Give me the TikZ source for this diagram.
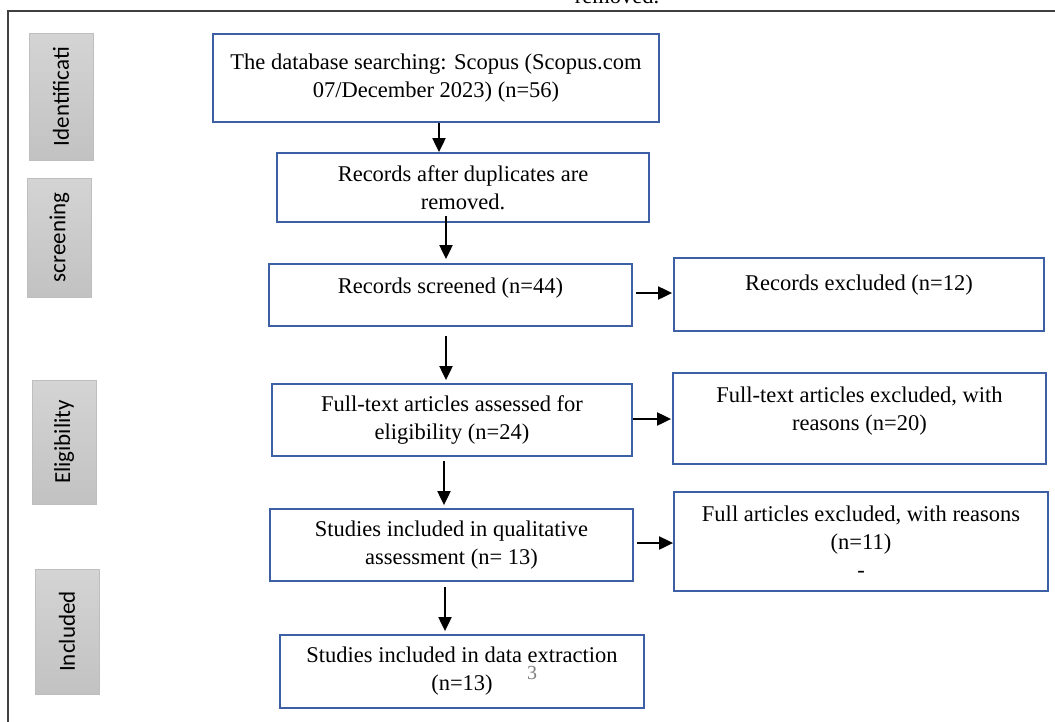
\documentclass[tikz,border=0pt]{standalone}
\usepackage{fontspec}
\setmainfont{Liberation Serif}
\newfontfamily\sidefont{Carlito}
\usetikzlibrary{arrows.meta}
\definecolor{boxblue}{RGB}{60,95,165}
\definecolor{phasetop}{RGB}{212,212,212}
\definecolor{phasebot}{RGB}{194,194,194}
\definecolor{phaseline}{RGB}{190,190,190}
\definecolor{framegray}{RGB}{64,64,64}

\begin{document}
\begin{tikzpicture}[x=1pt,y=-1pt,
        stage/.style={draw=boxblue,line width=1.8pt,inner sep=0pt,align=center,
            font=\fontsize{22.5}{28}\selectfont},
        phase/.style={draw=phaseline,line width=1pt,top color=phasetop,bottom color=phasebot,
            inner sep=0pt,minimum width=64pt,font=\sidefont\fontsize{23}{27}\selectfont},
        arr/.style={-{Triangle[length=14pt,width=13pt]},line width=2pt}]
            \useasboundingbox (0,0) rectangle (1055,721);
            \draw[framegray,line width=1.5pt] (8,730) |- (1060,11);
            \node[anchor=base,font=\fontsize{22.5}{28}\selectfont] (cut) at (617,3) {removed.};

            \node[phase,minimum height=127pt] (ident) at (61,96.5) {\rotatebox{90}{Identificati}};
            \node[phase,minimum height=119pt] (screen) at (59.5,237.5) {\rotatebox{90}{screening}};
            \node[phase,minimum height=124pt] (elig) at (64,442) {\rotatebox{90}{Eligibility}};
            \node[phase,minimum height=125pt] (incl) at (67,631.5) {\rotatebox{90}{Included}};

            \node[stage,minimum width=446pt,minimum height=88pt] (search) at (436,78)
                {The database searching: Scopus (Scopus.com\\07/December 2023) (n=56)};
            \node[stage,minimum width=372pt,minimum height=69pt] (dedup) at (463,187.5)
                {Records after duplicates are\\removed.};
            \node[stage,minimum width=363pt,minimum height=62pt,text depth=19pt] (screened) at (450.5,295)
                {Records screened (n=44)};
            \node[stage,minimum width=370pt,minimum height=73pt,text depth=24pt] (excl1) at (859,294.5)
                {Records excluded (n=12)};
            \node[stage,minimum width=360pt,minimum height=72pt] (assessed) at (452,420)
                {Full-text articles assessed for\\eligibility (n=24)};
            \node[stage,minimum width=373pt,minimum height=91pt,text depth=20pt] (excl2) at (859.5,418.5)
                {Full-text articles excluded, with\\reasons (n=20)};
            \node[stage,minimum width=363pt,minimum height=72pt] (qual) at (451.5,545)
                {Studies included in qualitative\\assessment (n= 13)};
            \node[stage,minimum width=374pt,minimum height=99pt] (excl3) at (861,541.5)
                {Full articles excluded, with reasons\\(n=11)\\-};
            \node[stage,minimum width=364pt,minimum height=73pt] (extract) at (462,671.5)
                {Studies included in data extraction\\(n=13)};
            \node[anchor=north,text=gray,font=\fontsize{20}{24}\selectfont,inner sep=0pt] (stray) at (532,666) {3};

            \draw[arr] ([xshift=3pt]search.south) -- ([xshift=3pt]search.south |- dedup.north);
            \draw[arr,shorten >=4pt] ([xshift=-17pt,yshift=7pt]dedup.south) -- ([xshift=-17pt]dedup.south |- screened.north);
            \draw[arr,shorten <=9pt,shorten >=3pt] ([xshift=-4.5pt]screened.south) -- ([xshift=-4.5pt]screened.south |- assessed.north);
            \draw[arr,shorten <=4pt,shorten >=3pt] ([xshift=-8pt]assessed.south) -- ([xshift=-8pt]assessed.south |- qual.north);
            \draw[arr,shorten <=5pt,shorten >=3pt] ([xshift=-6.5pt]qual.south) -- ([xshift=-6.5pt]qual.south |- extract.north);

            \draw[arr,shorten <=3pt,shorten >=1pt] ([yshift=2pt]screened.east) -- ([yshift=2pt]screened.east -| excl1.west);
            \draw[arr,shorten >=1pt] ([yshift=1pt]assessed.east) -- ([yshift=1pt]assessed.east -| excl2.west);
            \draw[arr,shorten <=3pt] ([yshift=2pt]qual.east) -- ([yshift=2pt]qual.east -| excl3.west);
\end{tikzpicture}
\end{document}
